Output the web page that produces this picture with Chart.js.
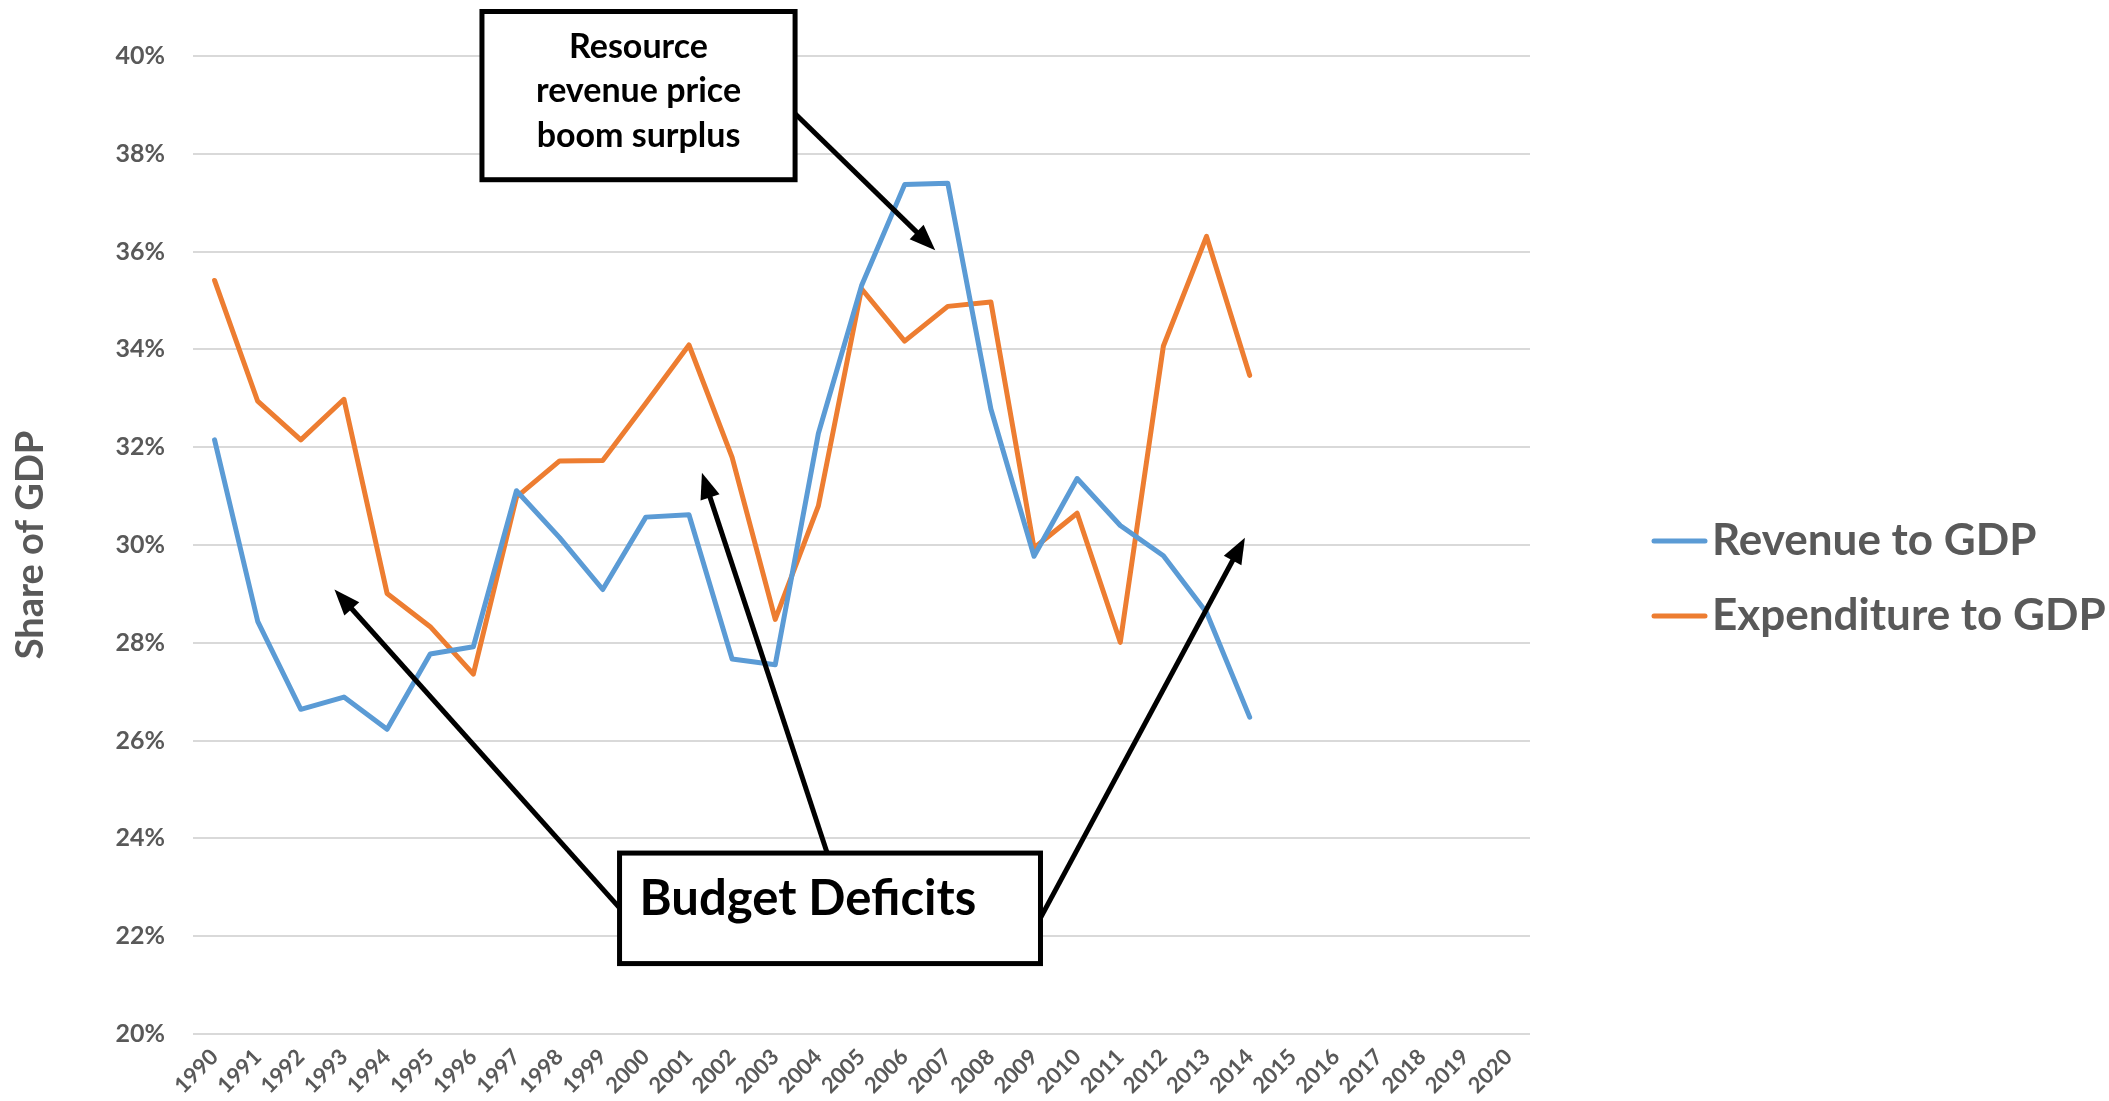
<!DOCTYPE html>
<html>
<head>
<meta charset="utf-8">
<script src="https://cdn.jsdelivr.net/npm/chart.js@4.4.1/dist/chart.umd.min.js"></script>
<style>
  html, body { margin: 0; padding: 0; background: #fff; }
  #wrap { width: 2109px; height: 1101px; }
</style>
</head>
<body>
<div id="wrap"><canvas id="chart" width="2109" height="1101"></canvas></div>
<script>
        // categories (x axis)
        const years = ['1990', '1991', '1992', '1993', '1994', '1995', '1996', '1997', '1998', '1999',
                       '2000', '2001', '2002', '2003', '2004', '2005', '2006', '2007', '2008', '2009',
                       '2010', '2011', '2012', '2013', '2014', '2015', '2016', '2017', '2018', '2019', '2020'];

        // share of GDP, percent (data stops at 2014)
        const revenueToGdp = [32.15, 28.44, 26.64, 26.89, 26.23, 27.77, 27.92, 31.11, 30.15, 29.09,
                              30.57, 30.62, 27.67, 27.55, 32.28, 35.30, 37.37, 37.40, 32.78, 29.77,
                              31.36, 30.40, 29.78, 28.62, 26.48];
        const expenditureToGdp = [35.41, 32.94, 32.15, 32.98, 29.01, 28.33, 27.36, 30.98, 31.72, 31.73,
                                  32.90, 34.09, 31.79, 28.48, 30.80, 35.24, 34.17, 34.88, 34.97, 29.94,
                                  30.65, 28.01, 34.07, 36.31, 33.47];

        // y axis ticks
        const yTicks = [20, 22, 24, 26, 28, 30, 32, 34, 36, 38, 40];

        const seriesNames = ['Revenue to GDP', 'Expenditure to GDP'];
        const seriesColors = ['#5B9BD5', '#ED7D31'];

        const FONT = 'Lato, "Open Sans", sans-serif';
        const GRAY = '#595959';

        // annotations, placed in data units (category index, percent)
        const notes = {
            boom: { x0: 6.20, x1: 13.46, y0: 40.91, y1: 37.47,
                    lines: ['Resource', 'revenue price', 'boom surplus'] },
            deficits: { x0: 9.39, x1: 19.15, y0: 23.70, y1: 21.44, text: 'Budget Deficits' }
        };
        const arrows = [
            { from: [13.45, 38.83], to: [16.71, 36.03] },
            { from: [9.39, 22.58], to: [2.78, 29.09] },
            { from: [14.20, 23.71], to: [11.30, 31.48] },
            { from: [19.16, 22.39], to: [23.89, 30.15] }
        ];

        function drawArrow(ctx, x0, y0, x1, y1) {
            const ang = Math.atan2(y1 - y0, x1 - x0);
            const headLen = 26, headW = 10;
            ctx.beginPath();
            ctx.moveTo(x0, y0);
            ctx.lineTo(x1 - Math.cos(ang) * headLen * 0.8, y1 - Math.sin(ang) * headLen * 0.8);
            ctx.stroke();
            ctx.beginPath();
            ctx.moveTo(x1, y1);
            ctx.lineTo(x1 - Math.cos(ang) * headLen - Math.sin(ang) * headW,
                       y1 - Math.sin(ang) * headLen + Math.cos(ang) * headW);
            ctx.lineTo(x1 - Math.cos(ang) * headLen + Math.sin(ang) * headW,
                       y1 - Math.sin(ang) * headLen - Math.cos(ang) * headW);
            ctx.closePath();
            ctx.fill();
        }

        const annotationPlugin = {
            id: 'notes',
            afterDatasetsDraw(chart) {
                const ctx = chart.ctx;
                const xs = chart.scales.x, ys = chart.scales.y;
                const px = v => xs.getPixelForValue(v);
                const py = v => ys.getPixelForValue(v);
                ctx.save();
                ctx.strokeStyle = '#000';
                ctx.fillStyle = '#000';
                ctx.lineWidth = 5;
                ctx.lineCap = 'butt';
                arrows.forEach(a => drawArrow(ctx, px(a.from[0]), py(a.from[1]), px(a.to[0]), py(a.to[1])));

                // resource boom box
                let b = notes.boom;
                let l = px(b.x0), r = px(b.x1), t = py(b.y0), bt = py(b.y1);
                ctx.fillStyle = '#fff';
                ctx.fillRect(l, t, r - l, bt - t);
                ctx.lineWidth = 5;
                ctx.strokeRect(l, t, r - l, bt - t);
                ctx.fillStyle = '#000';
                ctx.font = 'bold 34px ' + FONT;
                ctx.textAlign = 'center';
                ctx.textBaseline = 'alphabetic';
                b.lines.forEach((s, i) => ctx.fillText(s, (l + r) / 2, t + 46 + i * 44.5));

                // budget deficits box
                b = notes.deficits;
                l = px(b.x0); r = px(b.x1); t = py(b.y0); bt = py(b.y1);
                ctx.fillStyle = '#fff';
                ctx.fillRect(l, t, r - l, bt - t);
                ctx.strokeRect(l, t, r - l, bt - t);
                ctx.fillStyle = '#000';
                ctx.font = 'bold 49px ' + FONT;
                ctx.textAlign = 'left';
                ctx.fillText(b.text, l + 20, t + 62);
                ctx.restore();
            }
        };

        const legendPlugin = {
            id: 'sideLegend',
            afterDraw(chart) {
                const ctx = chart.ctx;
                ctx.save();
                ctx.font = 'bold 44px ' + FONT;
                ctx.textBaseline = 'middle';
                ctx.textAlign = 'left';
                chart.data.datasets.forEach((ds, i) => {
                    const y = 541 + i * 75;
                    ctx.strokeStyle = ds.borderColor;
                    ctx.lineWidth = 5;
                    ctx.lineCap = 'round';
                    ctx.beginPath();
                    ctx.moveTo(1654, y);
                    ctx.lineTo(1705, y);
                    ctx.stroke();
                    ctx.fillStyle = GRAY;
                    ctx.fillText(ds.label, 1712, y);
                });
                ctx.restore();
            }
        };

        const ctx = document.getElementById('chart').getContext('2d');
        new Chart(ctx, {
            type: 'line',
            data: {
                labels: years,
                datasets: [
                    { label: seriesNames[0], data: revenueToGdp, borderColor: seriesColors[0] },
                    { label: seriesNames[1], data: expenditureToGdp, borderColor: seriesColors[1] }
                ]
            },
            options: {
                responsive: false,
                animation: false,
                devicePixelRatio: 1,
                elements: {
                    line: { borderWidth: 5, tension: 0, borderJoinStyle: 'round', borderCapStyle: 'round', fill: false },
                    point: { radius: 0, hoverRadius: 0 }
                },
                layout: { padding: { top: 56, right: 579, bottom: 0, left: 0 } },
                plugins: {
                    legend: { display: false },
                    tooltip: { enabled: false }
                },
                scales: {
                    x: {
                        offset: true,
                        grid: { display: false, drawTicks: false },
                        border: { display: false },
                        ticks: {
                            autoSkip: false,
                            minRotation: 45,
                            maxRotation: 45,
                            padding: 10,
                            color: GRAY,
                            font: { family: FONT, weight: 'bold', size: 22 }
                        },
                        afterFit: scale => { scale.height = 67; }
                    },
                    y: {
                        min: yTicks[0],
                        max: yTicks[yTicks.length - 1],
                        afterBuildTicks: scale => { scale.ticks = yTicks.map(v => ({ value: v })); },
                        grid: { color: '#D9D9D9', lineWidth: 2, drawTicks: false },
                        border: { display: false },
                        ticks: {
                            padding: 28,
                            color: GRAY,
                            font: { family: FONT, weight: 'bold', size: 25 },
                            callback: v => v + '%'
                        },
                        title: {
                            display: true,
                            text: 'Share of GDP',
                            color: GRAY,
                            font: { family: FONT, weight: 'bold', size: 38 },
                            padding: { top: 8, bottom: 0 }
                        },
                        afterFit: scale => { scale.width = 193; }
                    }
                }
            },
            plugins: [annotationPlugin, legendPlugin]
        });
</script>
</body>
</html>
